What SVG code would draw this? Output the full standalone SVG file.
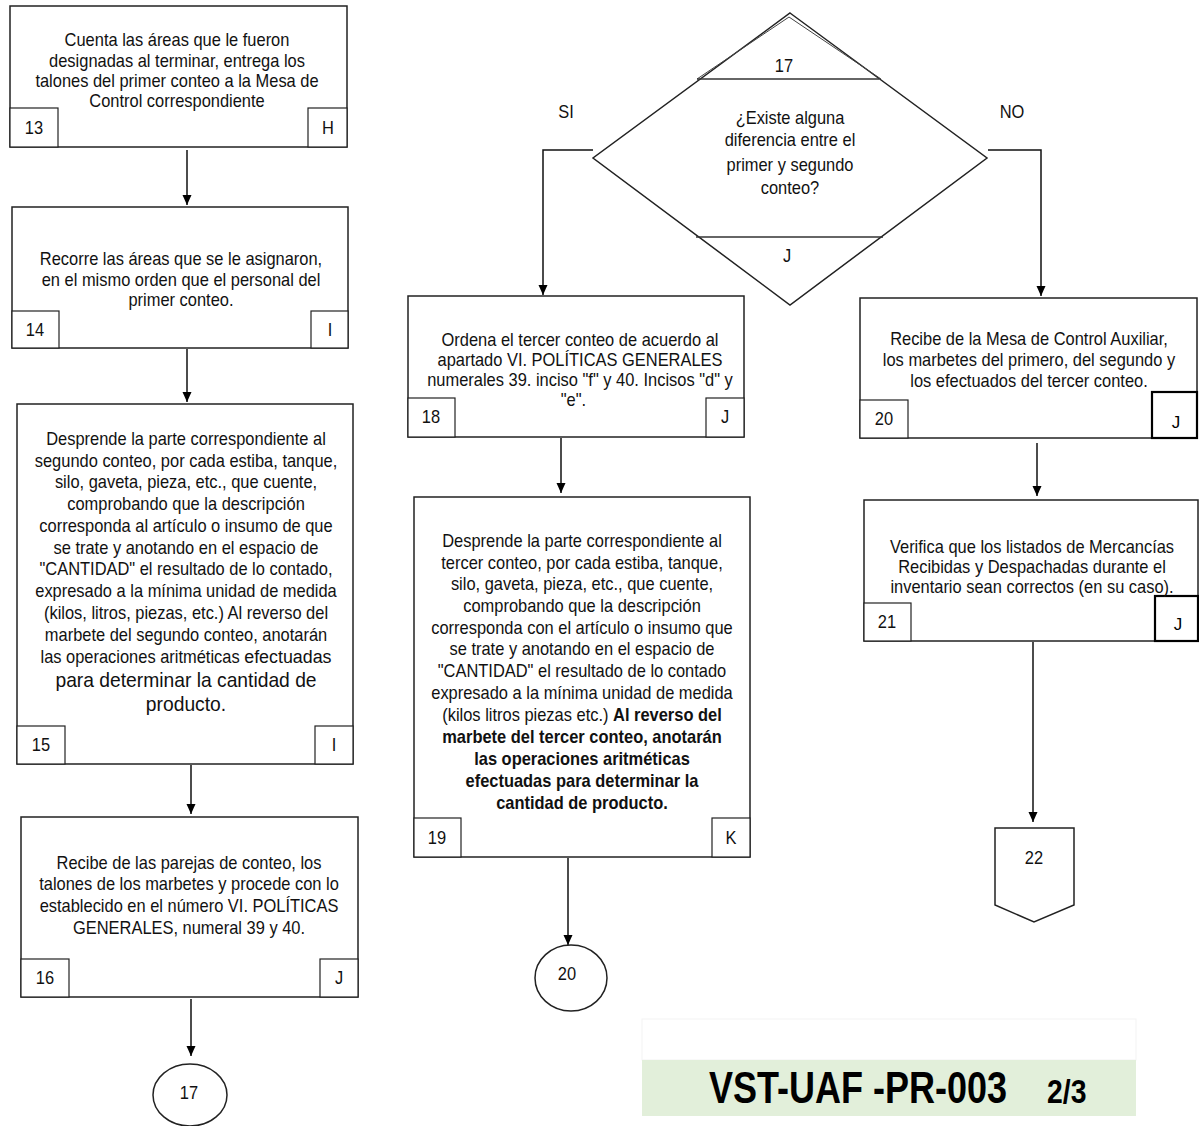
<svg xmlns="http://www.w3.org/2000/svg" width="1199" height="1126" viewBox="0 0 1199 1126">
<style>
.bx{fill:#fff;stroke:#222;stroke-width:1.5}
.sb{fill:#fff;stroke:#222;stroke-width:1.2}
.sbk{fill:#fff;stroke:#000;stroke-width:2.2}
.t{font-family:"Liberation Sans",Arial,sans-serif;font-size:17.5px;fill:#111;text-anchor:middle}
.b{font-weight:bold}
.cn{stroke:#111;stroke-width:1.5;fill:none}
.ftr{font-family:"Liberation Sans",Arial,sans-serif;font-weight:bold;fill:#000}
.jj{font-family:"Liberation Sans",Arial,sans-serif;font-size:17px;fill:#000;text-anchor:middle}
</style>
<defs>
<marker id="ah" viewBox="0 0 10 10" refX="10" refY="5" markerWidth="10" markerHeight="10" markerUnits="userSpaceOnUse" orient="auto"><path d="M0,0.5 L10,5 L0,9.5 z" fill="#000"/></marker>
</defs>
<rect width="1199" height="1126" fill="#fff"/>

<g id="connectors">
<line class="cn" x1="187" y1="150" x2="187" y2="205" marker-end="url(#ah)"/>
<line class="cn" x1="187" y1="349" x2="187" y2="402" marker-end="url(#ah)"/>
<line class="cn" x1="191" y1="765" x2="191" y2="814" marker-end="url(#ah)"/>
<line class="cn" x1="191" y1="999" x2="191" y2="1056" marker-end="url(#ah)"/>
<polyline class="cn" points="593,150 543,150 543,295" marker-end="url(#ah)"/>
<polyline class="cn" points="988,150 1041,150 1041,296" marker-end="url(#ah)"/>
<line class="cn" x1="561" y1="438" x2="561" y2="493" marker-end="url(#ah)"/>
<line class="cn" x1="568" y1="858" x2="568" y2="945" marker-end="url(#ah)"/>
<line class="cn" x1="1037" y1="443" x2="1037" y2="496" marker-end="url(#ah)"/>
<line class="cn" x1="1033" y1="642" x2="1033" y2="822" marker-end="url(#ah)"/>
</g>

<g id="node13">
<rect class="bx" x="10" y="6" width="337" height="141"/>
<rect class="sb" x="10" y="108" width="48" height="39"/>
<rect class="sb" x="308" y="108" width="39" height="39"/>
<g transform="translate(177 0) scale(0.94 1)" class="t">
<text x="0" y="46">Cuenta las áreas que le fueron</text>
<text x="0" y="67">designadas al terminar, entrega los</text>
<text x="0" y="87">talones del primer conteo a la Mesa de</text>
<text x="0" y="107">Control correspondiente</text>
</g>
<text class="t" transform="translate(34 134) scale(0.94 1)">13</text>
<text class="t" transform="translate(328 134) scale(0.94 1)">H</text>
</g>

<g id="node14">
<rect class="bx" x="12" y="207" width="336" height="141"/>
<rect class="sb" x="12" y="311" width="47" height="37"/>
<rect class="sb" x="311" y="311" width="37" height="37"/>
<g transform="translate(181 0) scale(0.94 1)" class="t">
<text x="0" y="265">Recorre las áreas que se le asignaron,</text>
<text x="0" y="286">en el mismo orden que el personal del</text>
<text x="0" y="306">primer conteo.</text>
</g>
<text class="t" transform="translate(35 336) scale(0.94 1)">14</text>
<text class="t" transform="translate(330 336) scale(0.94 1)">I</text>
</g>

<g id="node15">
<rect class="bx" x="17" y="404" width="336" height="360"/>
<rect class="sb" x="17" y="726" width="48" height="38"/>
<rect class="sb" x="315" y="726" width="38" height="38"/>
<g transform="translate(186 0) scale(0.94 1)" class="t">
<text x="0" y="445">Desprende la parte correspondiente al</text>
<text x="0" y="467">segundo conteo, por cada estiba, tanque,</text>
<text x="0" y="488">silo, gaveta, pieza, etc., que cuente,</text>
<text x="0" y="510">comprobando que la descripción</text>
<text x="0" y="532">corresponda al artículo o insumo de que</text>
<text x="0" y="554">se trate y anotando en el espacio de</text>
<text x="0" y="575">"CANTIDAD" el resultado de lo contado,</text>
<text x="0" y="597">expresado a la mínima unidad de medida</text>
<text x="0" y="619">(kilos, litros, piezas, etc.) Al reverso del</text>
<text x="0" y="641">marbete del segundo conteo, anotarán</text>
<text x="0" y="663">las operaciones aritméticas <tspan font-size="19">efectuadas</tspan></text>
<text x="0" y="687" font-size="20.5">para determinar la cantidad de</text>
<text x="0" y="711" font-size="20.5">producto.</text>
</g>
<text class="t" transform="translate(41 751) scale(0.94 1)">15</text>
<text class="t" transform="translate(334 751) scale(0.94 1)">I</text>
</g>

<g id="node16">
<rect class="bx" x="21" y="817" width="337" height="180"/>
<rect class="sb" x="21" y="959" width="48" height="38"/>
<rect class="sb" x="320" y="959" width="38" height="38"/>
<g transform="translate(189 0) scale(0.94 1)" class="t">
<text x="0" y="869">Recibe de las parejas de conteo, los</text>
<text x="0" y="890">talones de los marbetes y procede con lo</text>
<text x="0" y="912">establecido en el número VI. POLÍTICAS</text>
<text x="0" y="934">GENERALES, numeral 39 y 40.</text>
</g>
<text class="t" transform="translate(45 984) scale(0.94 1)">16</text>
<text class="t" transform="translate(339 984) scale(0.94 1)">J</text>
</g>

<g id="node17c">
<ellipse class="bx" cx="190" cy="1095" rx="37" ry="31"/>
<text class="t" transform="translate(189 1099) scale(0.94 1)">17</text>
</g>

<g id="node17">
<polygon class="bx" points="790,13 987,158 790,305 593,158"/>
<polyline fill="none" stroke="#444" stroke-width="1" points="697,79 789,17 881,79"/>
<line stroke="#333" stroke-width="1.5" x1="697" y1="79" x2="879" y2="79"/>
<line stroke="#333" stroke-width="1.5" x1="696" y1="237" x2="883" y2="237"/>
<text class="t" transform="translate(784 72) scale(0.94 1)">17</text>
<g transform="translate(790 0) scale(0.94 1)" class="t">
<text x="0" y="124">¿Existe alguna</text>
<text x="0" y="146">diferencia entre el</text>
<text x="0" y="171">primer y segundo</text>
<text x="0" y="194">conteo?</text>
</g>
<text class="t" transform="translate(787 262) scale(0.94 1)">J</text>
<text class="t" transform="translate(566 118) scale(0.94 1)">SI</text>
<text class="t" transform="translate(1012 118) scale(0.94 1)">NO</text>
</g>

<g id="node18">
<rect class="bx" x="408" y="296" width="336" height="141"/>
<rect class="sb" x="408" y="398" width="47" height="39"/>
<rect class="sb" x="706" y="398" width="38" height="39"/>
<g transform="translate(580 0) scale(0.94 1)" class="t">
<text x="0" y="346">Ordena el tercer conteo de acuerdo al</text>
<text x="0" y="366">apartado VI. POLÍTICAS GENERALES</text>
<text x="0" y="386">numerales 39. inciso "f" y 40. Incisos "d" y</text>
<text x="-7" y="406">"e".</text>
</g>
<text class="t" transform="translate(431 423) scale(0.94 1)">18</text>
<text class="t" transform="translate(725 423) scale(0.94 1)">J</text>
</g>

<g id="node19">
<rect class="bx" x="414" y="497" width="336" height="360"/>
<rect class="sb" x="414" y="818" width="47" height="39"/>
<rect class="sb" x="712" y="818" width="38" height="39"/>
<g transform="translate(582 0) scale(0.94 1)" class="t">
<text x="0" y="547">Desprende la parte correspondiente al</text>
<text x="0" y="569">tercer conteo, por cada estiba, tanque,</text>
<text x="0" y="590">silo, gaveta, pieza, etc., que cuente,</text>
<text x="0" y="612">comprobando que la descripción</text>
<text x="0" y="634">corresponda con el artículo o insumo que</text>
<text x="0" y="655">se trate y anotando en el espacio de</text>
<text x="0" y="677">"CANTIDAD" el resultado de lo contado</text>
<text x="0" y="699">expresado a la mínima unidad de medida</text>
<text x="0" y="721">(kilos litros piezas etc.) <tspan class="b">Al reverso del</tspan></text>
<text x="0" y="743" class="b">marbete del tercer conteo, anotarán</text>
<text x="0" y="765" class="b">las operaciones aritméticas</text>
<text x="0" y="787" class="b">efectuadas para determinar la</text>
<text x="0" y="809" class="b">cantidad de producto.</text>
</g>
<text class="t" transform="translate(437 844) scale(0.94 1)">19</text>
<text class="t" transform="translate(731 844) scale(0.94 1)">K</text>
</g>

<g id="node20c">
<ellipse class="bx" cx="571" cy="978" rx="36" ry="33"/>
<text class="t" transform="translate(567 980) scale(0.94 1)">20</text>
</g>

<g id="node20">
<rect class="bx" x="860" y="298" width="337" height="140"/>
<rect class="sb" x="860" y="400" width="48" height="38"/>
<rect class="sbk" x="1152" y="392" width="45" height="46"/>
<g transform="translate(1029 0) scale(0.94 1)" class="t">
<text x="0" y="345">Recibe de la Mesa de Control Auxiliar,</text>
<text x="0" y="366">los marbetes del primero, del segundo y</text>
<text x="0" y="387">los efectuados del tercer conteo.</text>
</g>
<text class="t" transform="translate(884 425) scale(0.94 1)">20</text>
<text class="jj" x="1176" y="428">J</text>
</g>

<g id="node21">
<rect class="bx" x="864" y="500" width="334" height="141"/>
<rect class="sb" x="864" y="603" width="47" height="38"/>
<rect class="sbk" x="1155" y="596" width="43" height="45"/>
<g transform="translate(1032 0) scale(0.94 1)" class="t">
<text x="0" y="553">Verifica que los listados de Mercancías</text>
<text x="0" y="573">Recibidas y Despachadas durante el</text>
<text x="0" y="593">inventario sean correctos (en su caso).</text>
</g>
<text class="t" transform="translate(887 628) scale(0.94 1)">21</text>
<text class="jj" x="1178" y="630">J</text>
</g>

<g id="node22">
<polygon class="bx" points="995,828 1074,828 1074,905 1034,922 995,905"/>
<text class="t" transform="translate(1034 864) scale(0.94 1)">22</text>
</g>

<g id="footer">
<rect x="642" y="1019" width="494" height="41" fill="#fff" stroke="#f3f3f3" stroke-width="1"/>
<rect x="642" y="1060" width="494" height="56" fill="#e2efda"/>
<text class="ftr" transform="translate(709 1103) scale(0.8 1)" x="0" y="0" font-size="45">VST-UAF -PR-003</text>
<text class="ftr" transform="translate(1047 1103) scale(0.86 1)" x="0" y="0" font-size="33">2/3</text>
</g>
</svg>
